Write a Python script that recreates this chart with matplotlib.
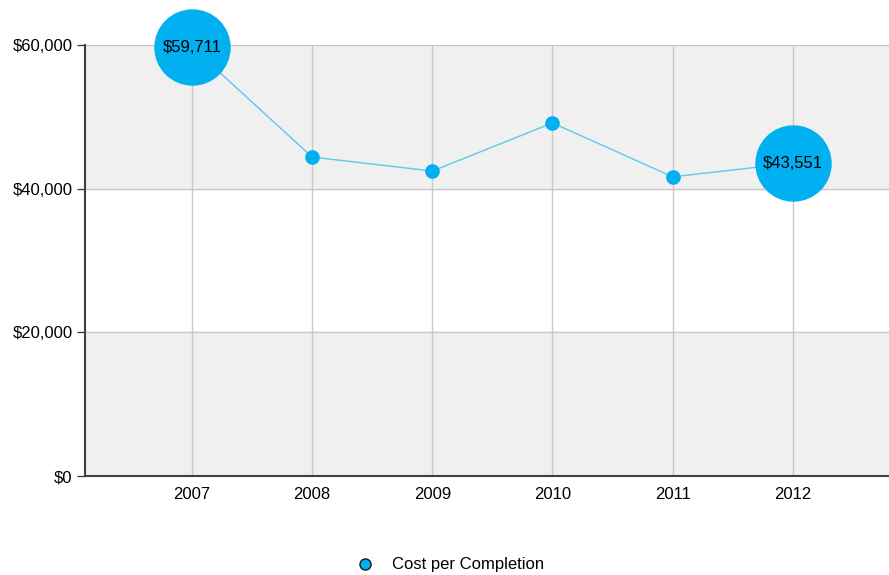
import numpy as np
import matplotlib.pyplot as plt

plt.rcParams['font.family'] = ['Liberation Sans', 'DejaVu Sans']

years = [2007, 2008, 2009, 2010, 2011, 2012]
cost = [59711, 44400, 42450, 49150, 41650, 43551]
labelled = [0, 5]
yticks = [0, 20000, 40000, 60000]
ytick_labels = ['$0', '$20,000', '$40,000', '$60,000']

fs = 12

fig = plt.figure(figsize=(8.89, 5.75), dpi=100)
ax = fig.add_axes([85 / 889, 99 / 575, 1 - 85 / 889, 431 / 575])
ax.set_facecolor('white')

# alternating bands
for i in range(len(yticks) - 1):
    if i % 2 == 0:
        ax.axhspan(yticks[i], yticks[i + 1], color='#f0f0f0', zorder=0)

ax.set_xlim(2006.11, 2012.8)
ax.set_ylim(0, 60000)
ax.set_xticks(years)
ax.set_xticklabels([str(y) for y in years], fontsize=fs)
ax.set_yticks(yticks)
ax.set_yticklabels(ytick_labels, fontsize=fs)
ax.grid(True, color='#c8c8c8', linewidth=1, zorder=1)
ax.set_axisbelow(True)

for s in ['top', 'right']:
    ax.spines[s].set_visible(False)
for s in ['left', 'bottom']:
    ax.spines[s].set_color('#404040')
    ax.spines[s].set_linewidth(1.5)
ax.tick_params(axis='y', length=6, width=1, color='#404040', pad=3)
ax.tick_params(axis='x', length=0, pad=8)

ax.plot(years, cost, color='#5ec8ef', linewidth=1, marker='o', markersize=9.5,
        markerfacecolor='#00b0f0', markeredgecolor='#00b0f0', zorder=3,
        label='Cost per Completion', clip_on=False)
for i in labelled:
    ax.plot(years[i], cost[i], marker='o', markersize=54, color='#00b0f0',
            zorder=4, clip_on=False)
    ax.text(years[i], cost[i], '${:,}'.format(cost[i]), ha='center', va='center',
            fontsize=fs, color='black', zorder=5)

leg = fig.legend(handles=[plt.Line2D([], [], marker='o', linestyle='none', markersize=8,
                                     markerfacecolor='#00b0f0', markeredgecolor='#1a1a1a',
                                     markeredgewidth=1)],
                 labels=['Cost per Completion'], loc='center', bbox_to_anchor=(446 / 889, 10 / 575),
                 frameon=False, fontsize=fs, handletextpad=0.6)

fig.savefig('out.png', dpi=100)
